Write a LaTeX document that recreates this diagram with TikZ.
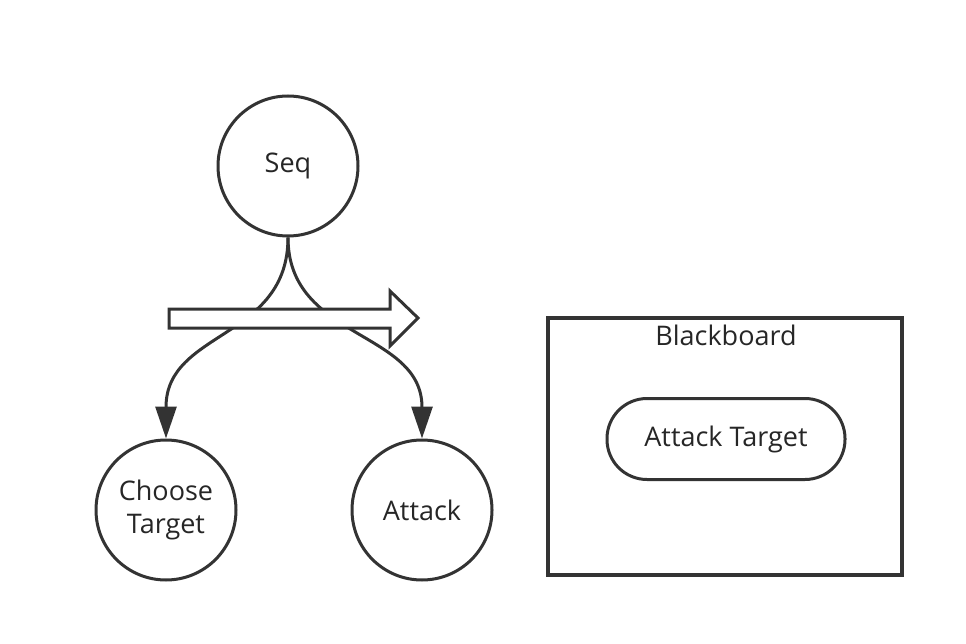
\documentclass[tikz,border=0pt]{standalone}
\usepackage{fontspec}
\setmainfont{Open Sans}
\usetikzlibrary{arrows.meta}
\definecolor{inkgray}{HTML}{333333}

\begin{document}
\begin{tikzpicture}[x=1pt,y=-1pt, every node/.style={font=\fontsize{27}{33}\selectfont, text=black!85}]
    \useasboundingbox (0,0) rectangle (966,644);
    \node[draw=inkgray, line width=3pt, circle, minimum size=140pt] (seq) at (288,166) {Seq};
    \node[draw=inkgray, line width=3pt, circle, minimum size=140pt, align=center] (choose) at (166,510) {Choose\\Target};
    \node[draw=inkgray, line width=3pt, circle, minimum size=140pt] (attack) at (422,510) {Attack};
    \draw[inkgray, line width=3pt, -{Triangle[length=32pt,width=21pt]}] (seq.south) .. controls (288,340) and (166,330) .. (choose.north);
    \draw[inkgray, line width=3pt, -{Triangle[length=32pt,width=21pt]}] (seq.south) .. controls (288,340) and (422,330) .. (attack.north);
    \draw[inkgray, line width=3pt, fill=white] (169,309) -- (390,309) -- (390,291) -- (418,318) -- (390,346) -- (390,328) -- (169,328) -- cycle;
    \node[draw=inkgray, line width=3.5pt, rectangle, minimum width=354pt, minimum height=257pt] (board) at (725,446.5) {};
    \node (boardlabel) at (726,335) {Blackboard};
    \node[draw=inkgray, line width=3pt, rectangle, rounded corners=40pt, minimum width=238pt, minimum height=81pt] (target) at (726,439) {Attack Target};
\end{tikzpicture}
\end{document}
